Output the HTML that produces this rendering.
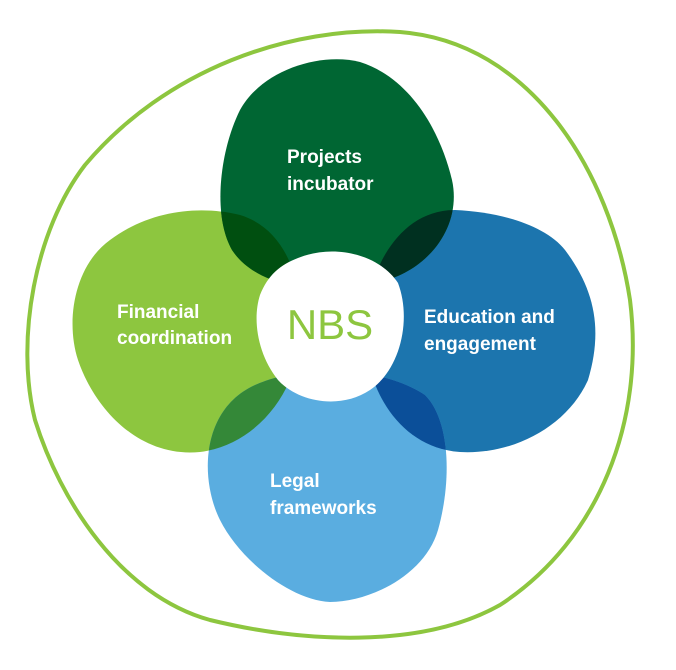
<!DOCTYPE html>
<html><head><meta charset="utf-8"><style>
html,body{margin:0;padding:0;background:#fff;width:676px;height:670px;overflow:hidden}
text{font-family:"Liberation Sans",sans-serif}
</style></head><body>
<svg width="676" height="670" viewBox="0 0 676 670" xmlns="http://www.w3.org/2000/svg">
<defs>
<path id="top" d="M240 110 C262 70 320 52 360 62 C410 78 440 130 452 180 C462 225 430 270 380 282 C330 294 260 292 232 250 C212 215 220 150 240 110 Z"/>
<path id="left" d="M110 240 C150 210 200 205 240 215 C290 230 305 290 300 340 C295 395 255 445 200 452 C140 458 95 410 78 360 C65 320 75 265 110 240 Z"/>
<path id="right" d="M455 210 C500 212 545 225 565 250 C595 290 603 330 588 380 C568 425 515 455 460 452 C405 448 372 400 365 345 C360 290 390 210 455 210 Z"/>
<path id="bot" d="M255 385 C300 365 380 365 425 395 C450 420 452 480 438 530 C425 575 370 602 330 602 C290 600 240 560 220 520 C200 480 200 410 255 385 Z"/>
<clipPath id="cTop"><use href="#top"/></clipPath>
<clipPath id="cBot"><use href="#bot"/></clipPath>
</defs>
<path d="M85 165 C165 70 290 25 400 32 C530 42 610 170 630 300 C645 420 600 540 500 605 C420 650 300 642 210 620 C120 595 60 500 35 420 C15 340 35 230 85 165 Z" fill="none" stroke="#8DC63F" stroke-width="4"/>
<use href="#left" fill="#8DC63F"/>
<use href="#right" fill="#1C75AE"/>
<use href="#top" fill="#006633"/>
<use href="#bot" fill="#5AADE0"/>
<g clip-path="url(#cTop)"><use href="#left" fill="#004F10"/><use href="#right" fill="#003020"/></g>
<g clip-path="url(#cBot)"><use href="#left" fill="#348838"/><use href="#right" fill="#0B4F99"/></g>
<path d="M298 258 C335 243 380 255 398 283 C412 320 400 370 370 390 C340 410 298 402 278 380 C258 355 252 320 260 295 C268 275 280 265 298 258 Z" fill="#fff"/>
<text x="330" y="339" text-anchor="middle" font-size="42" fill="#8DC63F">NBS</text>
<g fill="#fff" font-weight="bold" font-size="19">
<text x="287" y="163">Projects</text><text x="287" y="190">incubator</text>
<text x="117" y="318">Financial</text><text x="117" y="344">coordination</text>
<text x="424" y="323">Education and</text><text x="424" y="350">engagement</text>
<text x="270" y="487">Legal</text><text x="270" y="514">frameworks</text>
</g>
</svg>
</body></html>
